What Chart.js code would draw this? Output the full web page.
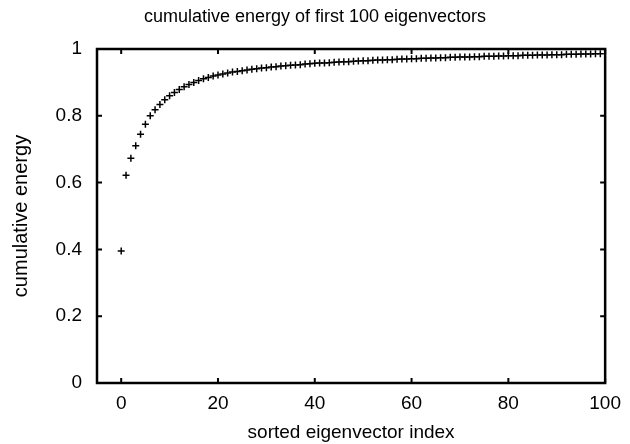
<!DOCTYPE html>
<html>
<head>
  <meta charset="UTF-8">
  <title>cumulative energy of first 100 eigenvectors</title>
  <script src="https://cdn.jsdelivr.net/npm/chart.js"></script>
  <style>
    html, body { margin: 0; padding: 0; background: #fff; }
    #wrap { width: 630px; height: 444px; }
  </style>
</head>
<body>
  <div id="wrap"><canvas id="chart"></canvas></div>
  <script>
    // values, index 0..99
    const energy = [
      0.395, 0.622, 0.673, 0.710, 0.745, 0.775, 0.800, 0.818, 0.834, 0.848,
      0.860, 0.870, 0.879, 0.887, 0.894, 0.900, 0.906, 0.911, 0.915, 0.919,
      0.922, 0.925, 0.928, 0.931, 0.933, 0.935, 0.937, 0.939, 0.941, 0.943,
      0.944, 0.946, 0.947, 0.949, 0.950, 0.951, 0.952, 0.953, 0.955, 0.956,
      0.957, 0.958, 0.958, 0.959, 0.960, 0.961, 0.962, 0.962, 0.963, 0.964,
      0.965, 0.965, 0.966, 0.967, 0.967, 0.968, 0.968, 0.969, 0.970, 0.970,
      0.971, 0.971, 0.972, 0.972, 0.973, 0.973, 0.974, 0.974, 0.975, 0.975,
      0.976, 0.976, 0.976, 0.977, 0.977, 0.978, 0.978, 0.978, 0.979, 0.979,
      0.980, 0.980, 0.980, 0.981, 0.981, 0.981, 0.982, 0.982, 0.982, 0.983,
      0.983, 0.983, 0.984, 0.984, 0.984, 0.985, 0.985, 0.985, 0.986, 0.986
    ];
    const xTicks = [0, 20, 40, 60, 80, 100];
    const yTicks = [0, 0.2, 0.4, 0.6, 0.8, 1];

    const family = '"Liberation Sans", Arial, sans-serif';
    const axisFont = { family: family, size: 19 };
    const titleFont = { family: family, size: 18, weight: 'normal' };

    // gnuplot style frame with inward ticks on all four sides
    const framePlugin = {
      id: 'frame',
      afterDraw(chart) {
        const { ctx, chartArea: a, scales } = chart;
        const len = 5;
        ctx.save();
        ctx.strokeStyle = '#000';
        ctx.lineWidth = 2;
        xTicks.forEach(v => {
          const px = scales.x.getPixelForValue(v);
          ctx.beginPath();
          ctx.moveTo(px, a.bottom); ctx.lineTo(px, a.bottom - len);
          ctx.moveTo(px, a.top); ctx.lineTo(px, a.top + len);
          ctx.stroke();
        });
        yTicks.forEach(v => {
          const py = scales.y.getPixelForValue(v);
          ctx.beginPath();
          ctx.moveTo(a.left, py); ctx.lineTo(a.left + len, py);
          ctx.moveTo(a.right, py); ctx.lineTo(a.right - len, py);
          ctx.stroke();
        });
        ctx.lineWidth = 2.5;
        ctx.strokeRect(a.left, a.top, a.right - a.left, a.bottom - a.top);
        ctx.restore();
      }
    };

    new Chart(document.getElementById('chart'), {
      type: 'scatter',
      data: {
        datasets: [{
          data: energy.map((v, i) => ({ x: i, y: v })),
          pointStyle: 'cross',
          pointRadius: 3.5,
          pointBorderWidth: 1.5,
          borderColor: '#000',
          backgroundColor: '#000'
        }]
      },
      options: {
        responsive: true,
        maintainAspectRatio: false,
        animation: false,
        layout: { padding: 0 },
        plugins: {
          legend: { display: false },
          tooltip: { enabled: false },
          title: {
            display: true,
            text: 'cumulative energy of first 100 eigenvectors',
            color: '#000',
            font: titleFont,
            padding: { top: 6, bottom: 21.4 }
          }
        },
        scales: {
          x: {
            type: 'linear',
            min: -5,
            max: 100,
            afterBuildTicks: s => { s.ticks = xTicks.map(v => ({ value: v })); },
            afterFit: s => { s.height = 61; },
            grid: { display: false, drawTicks: false },
            border: { display: false },
            ticks: { color: '#000', font: axisFont, padding: 9, maxRotation: 0 },
            title: {
              display: true,
              text: 'sorted eigenvector index',
              color: '#000',
              font: axisFont,
              padding: { top: 4, bottom: 0 }
            }
          },
          y: {
            min: 0,
            max: 1,
            afterBuildTicks: s => { s.ticks = yTicks.map(v => ({ value: v })); },
            afterFit: s => { s.width = 97; },
            grid: { display: false, drawTicks: false },
            border: { display: false },
            ticks: { color: '#000', font: axisFont, padding: 15, callback: v => String(v) },
            title: {
              display: true,
              text: 'cumulative energy',
              color: '#000',
              font: { family: family, size: 20 },
              padding: { top: 9, bottom: 0 }
            }
          },
          // empty right margin so the title stays centred on the page
          yRight: {
            position: 'right',
            min: 0,
            max: 1,
            afterFit: s => { s.width = 22; },
            grid: { display: false, drawTicks: false },
            border: { display: false },
            ticks: { display: false }
          }
        }
      },
      plugins: [framePlugin]
    });
  </script>
</body>
</html>
